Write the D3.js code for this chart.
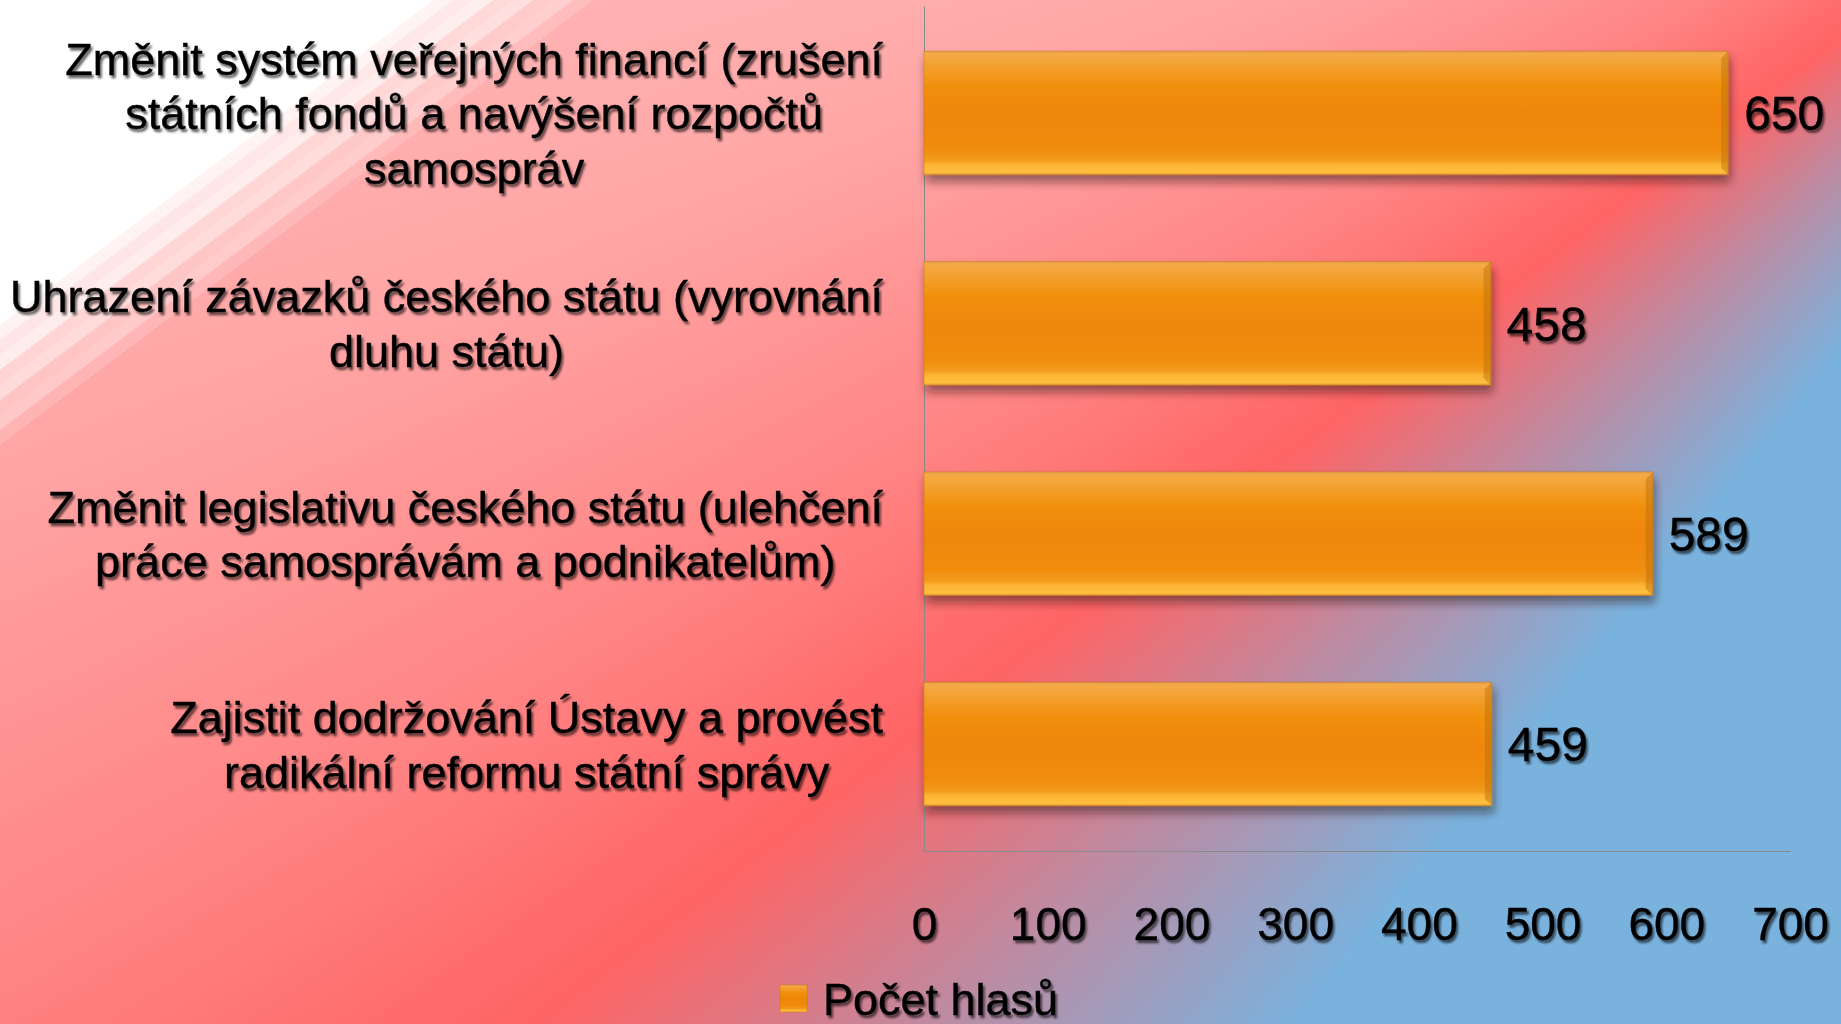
<!DOCTYPE html>
<html>
<head>
<meta charset="utf-8">
<script src="https://cdn.jsdelivr.net/npm/d3@7"></script>
<style>
html, body { margin: 0; padding: 0; }
body {
  width: 1841px; height: 1024px; overflow: hidden;
  background: conic-gradient(from 0deg at 2500px -461px,
    #7ab2de 0deg, #7ab2de 219deg, #bd8ba2 226.5deg, #ff6464 233deg,
    #ff8484 240deg, #ffa6a6 250deg, #ffbcbc 262deg, #ffd2d2 282deg, #ffd2d2 360deg);
}
svg { display: block; }
</style>
</head>
<body>
<svg id="chart" width="1841" height="1024"></svg>
<script>
// data
var categories = [
  "Změnit systém veřejných financí (zrušení\nstátních fondů a navýšení rozpočtů\nsamospráv",
  "Uhrazení závazků českého státu (vyrovnání\ndluhu státu)",
  "Změnit legislativu českého státu (ulehčení\npráce samosprávám a podnikatelům)",
  "Zajistit dodržování Ústavy a provést\nradikální reformu státní správy"
];
var values = [650, 458, 589, 459];
var xTicks = [0, 100, 200, 300, 400, 500, 600, 700];
var seriesName = "Počet hlasů";

var svg = d3.select("#chart");
var defs = svg.append("defs");

// white striped corner top-left
var wg = defs.append("linearGradient").attr("id", "whiteCorner")
  .attr("gradientUnits", "userSpaceOnUse")
  .attr("x1", 0).attr("y1", 0).attr("x2", 240).attr("y2", 320);
[[0,1],[0.65,1],[0.65,0.85],[0.68,0.85],[0.68,0.7],[0.71,0.7],[0.71,0.78],[0.74,0.78],
 [0.74,0.5],[0.77,0.5],[0.77,0.58],[0.80,0.58],[0.80,0.32],[0.83,0.32],[0.83,0.38],
 [0.86,0.38],[0.86,0.15],[0.89,0.15],[0.89,0],[1,0]].forEach(function(s) {
  wg.append("stop").attr("offset", s[0]).attr("stop-color", "#fff").attr("stop-opacity", s[1]);
});

// bar fill
var bg = defs.append("linearGradient").attr("id", "barGrad")
  .attr("x1", 0).attr("y1", 0).attr("x2", 0).attr("y2", 1);
[[0,"#eaa34a"],[0.03,"#f5aa45"],[0.12,"#f3a030"],[0.28,"#f1900c"],[0.5,"#ef8608"],
 [0.78,"#f08c0c"],[0.88,"#f29a1c"],[0.92,"#fdb535"],[0.98,"#ffbe3e"],[1,"#e5a035"]].forEach(function(s) {
  bg.append("stop").attr("offset", s[0]).attr("stop-color", s[1]);
});

var bs = defs.append("filter").attr("id", "barShadow")
  .attr("x", "-5%").attr("y", "-20%").attr("width", "115%").attr("height", "160%");
bs.append("feDropShadow").attr("dx", 2).attr("dy", 7).attr("stdDeviation", 5)
  .attr("flood-color", "#2a1010").attr("flood-opacity", 0.5);

var ts = defs.append("filter").attr("id", "txtShadow")
  .attr("x", "-10%").attr("y", "-20%").attr("width", "130%").attr("height", "150%");
ts.append("feDropShadow").attr("dx", 2).attr("dy", 3).attr("stdDeviation", 1.3)
  .attr("flood-color", "#000").attr("flood-opacity", 0.6);

svg.append("rect").attr("width", 1841).attr("height", 1024).attr("fill", "url(#whiteCorner)");

var x = d3.scaleLinear().domain([0, 700]).range([924, 1790]);
var y = d3.scaleBand().domain(categories).range([6, 851])
  .paddingInner(0.413).paddingOuter(0.215);

var FONT = "'Liberation Sans', Arial, sans-serif";

// axes
svg.append("g").attr("transform", "translate(924,0)").attr("color", "#8a8a8a")
  .call(d3.axisLeft(y).tickSize(0).tickFormat(""))
  .call(function(g) { g.selectAll(".tick").remove(); });

var xa = svg.append("g").attr("transform", "translate(0,851)").attr("color", "#8a8a8a")
  .call(d3.axisBottom(x).tickValues(xTicks).tickSize(0));
xa.selectAll("text").attr("y", 89).attr("dy", null).attr("fill", "#000")
  .attr("font-family", FONT).attr("font-size", 46)
  .attr("stroke", "#000").attr("stroke-width", 0.4)
  .attr("filter", "url(#txtShadow)");

// bars
var bars = svg.append("g").selectAll("g.bar").data(values).enter().append("g").attr("class", "bar");
bars.append("rect")
  .attr("x", x(0))
  .attr("y", function(d, i) { return y(categories[i]); })
  .attr("width", function(d) { return x(d) - x(0); })
  .attr("height", y.bandwidth())
  .attr("fill", "url(#barGrad)")
  .attr("stroke", "rgba(200,120,20,0.55)").attr("stroke-width", 1)
  .attr("filter", "url(#barShadow)");
bars.append("path")
  .attr("d", function(d, i) {
    var xe = x(d), y0 = y(categories[i]), y1 = y0 + y.bandwidth(), b = 7;
    return "M" + (xe - b) + "," + (y0 + b) + "L" + xe + "," + y0 + "L" + xe + "," + y1 +
      "L" + (xe - b) + "," + (y1 - b) + "Z";
  })
  .attr("fill", "#b86e08").attr("opacity", 0.45);

// value labels
svg.append("g").attr("filter", "url(#txtShadow)")
  .attr("stroke", "#000").attr("stroke-width", 0.4)
  .selectAll("text").data(values).enter().append("text")
  .attr("x", function(d) { return x(d) + 16; })
  .attr("y", function(d, i) { return y(categories[i]) + y.bandwidth() / 2; })
  .attr("dy", "0.36em")
  .attr("font-family", FONT).attr("font-size", 48)
  .text(function(d) { return d; });

// category labels: centred lines, block right-aligned next to the axis
var lab = svg.append("g").attr("filter", "url(#txtShadow)")
  .attr("stroke", "#000").attr("stroke-width", 0.4)
  .attr("font-family", FONT).attr("font-size", 45);
categories.forEach(function(c) {
  var lines = c.split("\n");
  var cy = y(c) + y.bandwidth() / 2;
  var t = lab.append("text").attr("text-anchor", "middle");
  lines.forEach(function(ln, i) {
    t.append("tspan").text(ln)
      .attr("y", cy + (i - (lines.length - 1) / 2) * 54.6)
      .attr("dy", "0.36em");
  });
  var w = d3.max(t.selectAll("tspan").nodes(), function(n) { return n.getComputedTextLength(); });
  t.selectAll("tspan").attr("x", 883 - w / 2);
});

// legend
var lg = svg.append("g");
lg.append("rect").attr("x", 780).attr("y", 985).attr("width", 27).attr("height", 27)
  .attr("fill", "url(#barGrad)").attr("stroke", "rgba(200,120,20,0.55)");
lg.append("text").attr("x", 823).attr("y", 1015)
  .attr("font-family", FONT).attr("font-size", 45)
  .attr("stroke", "#000").attr("stroke-width", 0.4)
  .attr("filter", "url(#txtShadow)")
  .text(seriesName);
</script>
</body>
</html>
